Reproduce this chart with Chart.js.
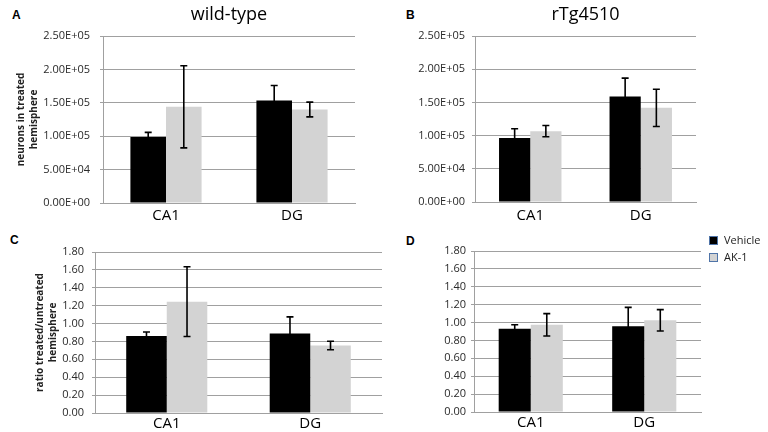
<!DOCTYPE html>
<html>
<head>
<meta charset="utf-8">
<script src="https://cdn.jsdelivr.net/npm/chart.js@4/dist/chart.umd.min.js"></script>
<style>
body { margin: 0; background: #fff; width: 768px; height: 432px; position: relative; overflow: hidden; }
canvas { position: absolute; }
.tag { position: absolute; font: bold 12px "Liberation Sans", Arial, sans-serif; color: #000; }
</style>
</head>
<body>
<div class="tag" style="left:12px;top:8px">A</div>
<div class="tag" style="left:406px;top:8px">B</div>
<div class="tag" style="left:10px;top:233px">C</div>
<div class="tag" style="left:406px;top:234px">D</div>
<canvas id="wt-count" width="384" height="228" style="left:0;top:0"></canvas>
<canvas id="tg-count" width="384" height="228" style="left:384px;top:0"></canvas>
<canvas id="wt-ratio" width="384" height="210" style="left:0;top:222px"></canvas>
<canvas id="tg-ratio" width="384" height="210" style="left:384px;top:222px"></canvas>
<script>
var categories = ['CA1', 'DG'];
var seriesNames = ['Vehicle', 'AK-1'];

// neuron counts, treated hemisphere
var wtCountVehicle = [98800, 153500];
var wtCountVehicleErr = [7000, 22500];
var wtCountAk1 = [144000, 140000];
var wtCountAk1Err = [61500, 11000];
var tgCountVehicle = [96300, 159000];
var tgCountVehicleErr = [14000, 27600];
var tgCountAk1 = [106700, 141800];
var tgCountAk1Err = [8500, 28000];

// ratio treated / untreated
var wtRatioVehicle = [0.86, 0.89];
var wtRatioVehicleErr = [0.045, 0.185];
var wtRatioAk1 = [1.245, 0.755];
var wtRatioAk1Err = [0.39, 0.048];
var tgRatioVehicle = [0.93, 0.96];
var tgRatioVehicleErr = [0.045, 0.21];
var tgRatioAk1 = [0.975, 1.025];
var tgRatioAk1Err = [0.125, 0.12];

var countTicks = ['0.00E+00', '5.00E+04', '1.00E+05', '1.50E+05', '2.00E+05', '2.50E+05'];
var ratioTicks = ['0.00', '0.20', '0.40', '0.60', '0.80', '1.00', '1.20', '1.40', '1.60', '1.80'];

Chart.defaults.font.family = '"Open Sans", sans-serif';

var errorBars = {
    id: 'errorBars',
    afterDatasetsDraw: function (chart) {
        var ctx = chart.ctx;
        var y = chart.scales.y;
        chart.data.datasets.forEach(function (ds, i) {
            chart.getDatasetMeta(i).data.forEach(function (bar, j) {
                var hi = y.getPixelForValue(ds.data[j] + ds.errors[j]);
                var lo = y.getPixelForValue(ds.data[j] - ds.errors[j]);
                ctx.save();
                ctx.strokeStyle = '#000';
                ctx.lineWidth = 1.6;
                ctx.beginPath();
                ctx.moveTo(bar.x, hi); ctx.lineTo(bar.x, lo);
                ctx.moveTo(bar.x - 3.5, hi); ctx.lineTo(bar.x + 3.5, hi);
                ctx.moveTo(bar.x - 3.5, lo); ctx.lineTo(bar.x + 3.5, lo);
                ctx.stroke();
                ctx.restore();
            });
        });
    }
};

var sideLegend = {
    id: 'sideLegend',
    afterDraw: function (chart) {
        if (!chart.options.plugins.sideLegend.show) return;
        var ctx = chart.ctx;
        var x = chart.chartArea.right + 8;
        chart.data.datasets.forEach(function (ds, i) {
            var top = 14 + i * 17;
            ctx.save();
            ctx.fillStyle = ds.backgroundColor;
            ctx.fillRect(x, top, 9, 9);
            ctx.strokeStyle = '#4f74a8';
            ctx.lineWidth = 1;
            ctx.strokeRect(x + 0.5, top + 0.5, 8, 8);
            ctx.fillStyle = '#222';
            ctx.font = '11px "Open Sans", sans-serif';
            ctx.textBaseline = 'middle';
            ctx.fillText(ds.label, x + 15, top + 5);
            ctx.restore();
        });
    }
};

function panel(id, cfg) {
    return new Chart(document.getElementById(id), {
        type: 'bar',
        data: {
            labels: categories,
            datasets: [
                { label: seriesNames[0], data: cfg.vehicle, errors: cfg.vehicleErr, backgroundColor: '#000' },
                { label: seriesNames[1], data: cfg.ak1, errors: cfg.ak1Err, backgroundColor: '#d3d3d3' }
            ]
        },
        options: {
            responsive: false,
            animation: false,
            categoryPercentage: 0.565,
            barPercentage: 1.0,
            layout: { padding: cfg.padding },
            plugins: {
                legend: { display: false },
                tooltip: { enabled: false },
                sideLegend: { show: !!cfg.legend },
                title: {
                    display: !!cfg.title,
                    text: cfg.title,
                    fullSize: false,
                    color: '#000',
                    font: { size: 18, weight: 'normal' },
                    padding: { top: 4, bottom: 10.4 }
                }
            },
            scales: {
                x: {
                    grid: { display: false, drawTicks: false },
                    border: { color: '#a0a0a0' },
                    ticks: { color: '#000', font: { size: 15 }, padding: cfg.xPad },
                    afterFit: function (s) { s.height = cfg.xHeight; }
                },
                y: {
                    min: 0,
                    max: cfg.max,
                    grid: { color: '#a0a0a0', tickLength: 3 },
                    border: { color: '#a0a0a0' },
                    ticks: {
                        stepSize: cfg.step,
                        padding: cfg.yPad,
                        color: '#2a2a2a',
                        font: { size: 11 },
                        callback: function (v, i) { return cfg.tickLabels[i]; }
                    },
                    title: {
                        display: !!cfg.yTitle,
                        text: cfg.yTitle,
                        color: '#222',
                        font: { size: 10, weight: 'bold', lineHeight: 1.25 },
                        padding: { top: cfg.yTitlePad || 0, bottom: 0 }
                    },
                    afterFit: function (s) { s.width = cfg.yWidth; }
                }
            }
        },
        plugins: [errorBars, sideLegend]
    });
}

panel('wt-count', {
    title: 'wild-type',
    yTitle: ['neurons in treated', 'hemisphere'],
    yTitlePad: 15,
    vehicle: wtCountVehicle, vehicleErr: wtCountVehicleErr,
    ak1: wtCountAk1, ak1Err: wtCountAk1Err,
    max: 250000, step: 50000, tickLabels: countTicks,
    yWidth: 103, yPad: 10, xHeight: 25, xPad: 4,
    padding: { top: 0, right: 29, bottom: 0, left: 0 }
});

panel('tg-count', {
    title: 'rTg4510',
    vehicle: tgCountVehicle, vehicleErr: tgCountVehicleErr,
    ak1: tgCountAk1, ak1Err: tgCountAk1Err,
    max: 250000, step: 50000, tickLabels: countTicks,
    yWidth: 91, yPad: 7, xHeight: 26, xPad: 5,
    padding: { top: 0, right: 72, bottom: 0, left: 0 }
});

panel('wt-ratio', {
    yTitle: ['ratio treated/untreated', 'hemisphere'],
    yTitlePad: 34,
    vehicle: wtRatioVehicle, vehicleErr: wtRatioVehicleErr,
    ak1: wtRatioAk1, ak1Err: wtRatioAk1Err,
    max: 1.8, step: 0.2, tickLabels: ratioTicks,
    yWidth: 95, yPad: 8, xHeight: 19, xPad: 2,
    padding: { top: 30, right: 2, bottom: 0, left: 0 }
});

panel('tg-ratio', {
    legend: true,
    vehicle: tgRatioVehicle, vehicleErr: tgRatioVehicleErr,
    ak1: tgRatioAk1, ak1Err: tgRatioAk1Err,
    max: 1.8, step: 0.2, tickLabels: ratioTicks,
    yWidth: 90, yPad: 5, xHeight: 20, xPad: 2,
    padding: { top: 29, right: 67, bottom: 0, left: 0 }
});
</script>
</body>
</html>
